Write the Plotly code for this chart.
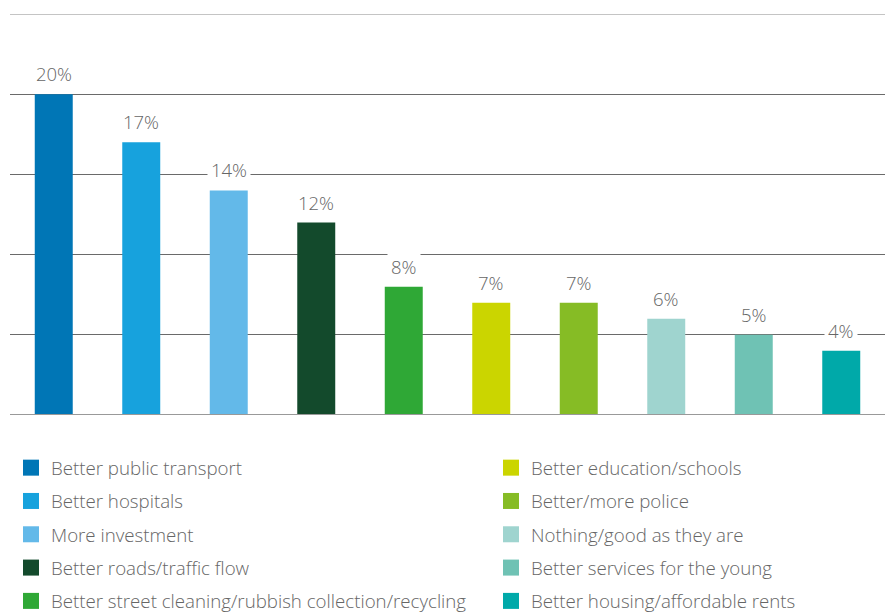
import plotly.graph_objects as go

categories = ["Better public transport", "Better hospitals", "More investment",
              "Better roads/traffic flow", "Better street cleaning/rubbish collection/recycling",
              "Better education/schools", "Better/more police", "Nothing/good as they are",
              "Better services for the young", "Better housing/affordable rents"]
values = [20, 17, 14, 12, 8, 7, 7, 6, 5, 4]
colors = ["#0076B6", "#17A2DD", "#63B9E9", "#134A2C", "#2FA836",
          "#CBD500", "#86BC25", "#9FD4CF", "#6FC2B4", "#00A9A9"]
tickvals = [0, 5, 10, 15, 20, 25]

FONT = "Open Sans"
TXT = "#666666"
# the page places the figure 8px from the top-left corner
W, H = 885, 605

fig = go.Figure()
fig.add_trace(go.Bar(x=categories, y=values, marker=dict(color=colors, line=dict(width=0)),
                     showlegend=False, hoverinfo="skip"))

for i, (c, col) in enumerate(zip(categories, colors)):
    fig.add_trace(go.Scatter(x=[None], y=[None], mode="markers", name=c,
                             marker=dict(symbol="square", size=16, color=col),
                             legend="legend" if i < 5 else "legend2",
                             legendgroup=f"g{i}"))

for c, v in zip(categories, values):
    fig.add_annotation(x=c, y=v, text=f"{v}%", showarrow=False, yanchor="bottom",
                       yshift=4, bgcolor="white", borderpad=3,
                       font=dict(family=FONT, size=18.5, color=TXT, weight=300))

legend_common = dict(font=dict(family=FONT, size=18.7, color=TXT, weight=300),
                     bgcolor="rgba(0,0,0,0)",
                     yanchor="top", xanchor="left", tracegroupgap=6, itemwidth=30,
                     orientation="v", xref="container", yref="container")

fig.update_layout(
    width=W, height=H,
    margin=dict(l=2, r=8, t=6, b=198, autoexpand=False),
    plot_bgcolor="white", paper_bgcolor="white",
    bargap=0.566,
    xaxis=dict(showticklabels=False, showgrid=False, zeroline=False, showline=False,
               ticks=""),
    yaxis=dict(range=[0, 25], tickvals=tickvals, showticklabels=False, showgrid=True,
               gridcolor="#6a6a6a", gridwidth=1, zeroline=False, showline=False),
    legend=dict(x=3 / W, y=1 - 441 / H, **legend_common),
    legend2=dict(x=483 / W, y=1 - 441 / H, **legend_common),
    showlegend=True,
)
fig.add_shape(type="line", xref="paper", yref="y", x0=0, x1=1, y0=25, y1=25,
              line=dict(color="#8a8a8a", width=1), layer="above")
fig.add_shape(type="line", xref="paper", yref="y", x0=0, x1=1, y0=0, y1=0,
              line=dict(color="#999999", width=2), layer="above")

fig.write_html("out.html")
